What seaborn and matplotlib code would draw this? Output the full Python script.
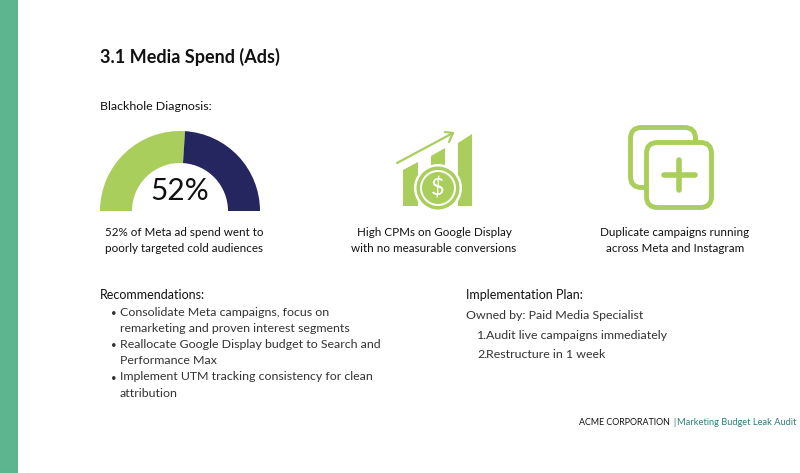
import matplotlib.pyplot as plt
from matplotlib.patches import Circle, FancyBboxPatch, Polygon, Rectangle
import seaborn as sns

# gauge data
gauge_labels = ['Cold audiences', 'Other']
gauge_shares = [52, 48]
gauge_colors = ['#A9CE5B', '#252560']

title = '3.1 Media Spend (Ads)'
diagnosis = 'Blackhole Diagnosis:'
captions = [
    '52% of Meta ad spend went to\npoorly targeted cold audiences',
    'High CPMs on Google Display\nwith no measurable conversions',
    'Duplicate campaigns running\nacross Meta and Instagram',
]
rec_items = [
    ['Consolidate Meta campaigns, focus on', 'remarketing and proven interest segments'],
    ['Reallocate Google Display budget to Search and', 'Performance Max'],
    ['Implement UTM tracking consistency for clean', 'attribution'],
]
plan_steps = ['Audit live campaigns immediately', 'Restructure in 1 week']

GREEN = '#A9CE5B'
STRIP = '#5DB58F'
INK = '#111111'
BODY = '#333333'

sns.set_theme(style='white')
plt.rcParams['font.family'] = ['Lato', 'DejaVu Sans']

W, H = 800, 473
fig = plt.figure(figsize=(W / 100, H / 100), dpi=100, facecolor='white')
ax = fig.add_axes([0, 0, 1, 1])
ax.set_xlim(0, W)
ax.set_ylim(0, H)
ax.axis('off')


def put(x, y, s, size=8.9, **kw):
    # y is measured from the top, like in the picture
    kw.setdefault('color', BODY)
    kw.setdefault('va', 'baseline')
    return ax.text(x, H - y, s, fontsize=size, **kw)


ax.add_patch(Rectangle((0, 0), 18, H, color=STRIP, lw=0))

put(100, 63, title, size=13, fontweight='bold', color=INK)
put(100, 110, diagnosis, size=8.9, color=INK)

# gauge, the third wedge is the hidden lower half
ax.pie(gauge_shares + [sum(gauge_shares)], colors=gauge_colors + ['none'],
       center=(180, H - 211), radius=80, startangle=180, counterclock=False,
       wedgeprops={'width': 32, 'linewidth': 0}, frame=True)
ax.set_xlim(0, W)
ax.set_ylim(0, H)
ax.set_aspect('auto')
ax.axis('off')
put(180, 200, f'{gauge_shares[0]}%', size=21.5, ha='center', color=INK)

# chart icon
ax.add_patch(Polygon([(403, H - 206), (403, H - 170), (418, H - 162), (418, H - 206)], color=GREEN, lw=0))
ax.add_patch(Polygon([(431, H - 206), (431, H - 156), (445, H - 148), (445, H - 206)], color=GREEN, lw=0))
ax.add_patch(Polygon([(458, H - 206), (458, H - 143), (472, H - 134), (472, H - 206)], color=GREEN, lw=0))
ax.plot([397, 453], [H - 163, H - 133], color=GREEN, lw=1.6, solid_capstyle='round')
ax.plot([445, 453, 449], [H - 132, H - 133, H - 142], color=GREEN, lw=1.6, solid_capstyle='round')
ax.add_patch(Circle((438, H - 188), 24, color='white', lw=0, zorder=3))
ax.add_patch(Circle((438, H - 188), 21.5, color=GREEN, lw=0, zorder=3))
ax.add_patch(Circle((438, H - 188), 18, color='white', lw=0, zorder=3))
ax.add_patch(Circle((438, H - 188), 16, color=GREEN, lw=0, zorder=3))
ax.text(438, H - 188, '\\$', color='white', fontsize=17, ha='center', va='center', zorder=4)

# duplicate icon
ax.add_patch(FancyBboxPatch((630.5, H - 187.5), 65, 60, boxstyle='round,pad=0,rounding_size=11',
                            fc='white', ec=GREEN, lw=3.5))
ax.add_patch(FancyBboxPatch((646.5, H - 207.5), 65, 65, boxstyle='round,pad=0,rounding_size=11',
                            fc='white', ec=GREEN, lw=3.5))
ax.plot([663.5, 694.5], [H - 175, H - 175], color=GREEN, lw=4, solid_capstyle='round')
ax.plot([679, 679], [H - 160, H - 190], color=GREEN, lw=4, solid_capstyle='round')

# captions
for cx, cap in zip([184, 434, 675], captions):
    for i, line in enumerate(cap.split('\n')):
        put(cx, 236 + i * 16.5, line, size=8.4, ha='center', color=INK)

# recommendations
put(100, 299, 'Recommendations:', size=9, color=INK)
y = 315.7
for item in rec_items:
    put(110.5, y, '\u2022', size=7)
    for line in item:
        put(119.5, y, line)
        y += 16.2

# implementation plan
put(466, 299, 'Implementation Plan:', size=9, color=INK)
put(466, 319, 'Owned by: Paid Media Specialist')
for i, step in enumerate(plan_steps):
    put(477, 339 + i * 19.5, f'{i + 1}.')
    put(486.5, 339 + i * 19.5, step)

# footer
put(579, 425, 'ACME CORPORATION', size=6.4, color=INK)
put(673, 425, '|', size=6.4, color='#2F6F6B')
put(677, 425, 'Marketing Budget Leak Audit', size=6.7, color='#2F7F78')

fig.savefig('out.png', dpi=100)
